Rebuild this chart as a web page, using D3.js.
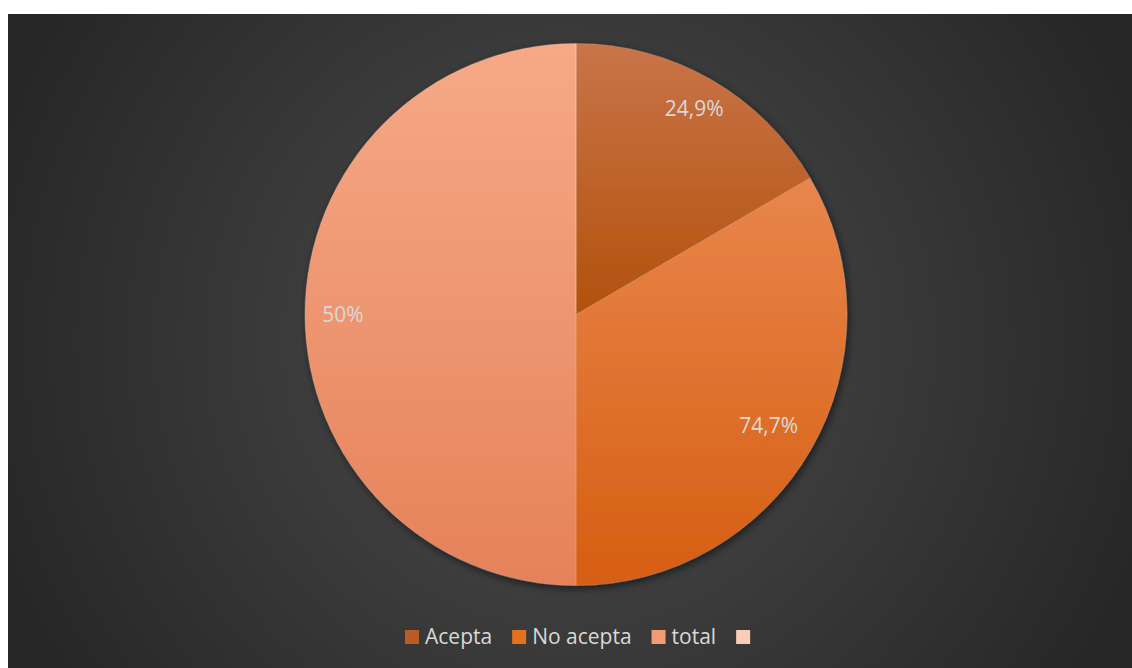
<!DOCTYPE html>
<html>
<head>
<meta charset="utf-8">
<title>Acepta / No acepta</title>
<script src="https://cdnjs.cloudflare.com/ajax/libs/d3/7.8.5/d3.min.js"></script>
<style>
  html, body { margin: 0; padding: 0; background: #fff; }
  text { font-family: "Open Sans", Lato, sans-serif; }
</style>
</head>
<body>
<script>
  const categories = ["Acepta", "No acepta", "total", ""];
  const shares = [16.6, 33.4, 50, 0];
  const labels = ["24,9%", "74,7%", "50%", ""];

  const w = 1132, h = 668;
  const cx = 576, cy = 314.5, r = 271;

  const topColors = ["#c97449", "#e9864c", "#f6a986", "#fbd5c3"];
  const botColors = ["#b2510c", "#d65e12", "#e5825a", "#f5c0a6"];
  const legendColors = ["#bb5c26", "#e3711f", "#f39c74", "#f9ccb6"];
  const labelDist = [0.875, 0.82, 0.86, 0.85];

  const svg = d3.select("body").append("svg")
    .attr("width", w).attr("height", h);

  const defs = svg.append("defs");
  const bg = defs.append("radialGradient").attr("id", "bg")
    .attr("gradientUnits", "userSpaceOnUse")
    .attr("cx", 570).attr("cy", 341).attr("r", 620);
  bg.append("stop").attr("offset", "0%").attr("stop-color", "#4d4d4d");
  bg.append("stop").attr("offset", "100%").attr("stop-color", "#262626");

  // one top-to-bottom gradient per slice, over the slice's own box
  categories.forEach((c, i) => {
    const g = defs.append("linearGradient").attr("id", "sl" + i)
      .attr("x1", 0).attr("x2", 0).attr("y1", 0).attr("y2", 1);
    g.append("stop").attr("offset", "0%").attr("stop-color", topColors[i]);
    g.append("stop").attr("offset", "100%").attr("stop-color", botColors[i]);
  });

  const sh = defs.append("filter").attr("id", "shadow")
    .attr("x", "-10%").attr("y", "-10%").attr("width", "120%").attr("height", "120%");
  sh.append("feDropShadow").attr("dx", 2).attr("dy", 3).attr("stdDeviation", 4)
    .attr("flood-color", "#000").attr("flood-opacity", 0.55);

  svg.append("rect").attr("x", 8).attr("y", 14)
    .attr("width", w - 8).attr("height", h - 14).attr("fill", "url(#bg)");

  const pie = d3.pie().sort(null).value(d => d);
  const arcs = pie(shares);
  const arc = d3.arc().innerRadius(0).outerRadius(r);

  const pg = svg.append("g").attr("transform", `translate(${cx},${cy})`);
  pg.append("g").attr("filter", "url(#shadow)")
    .selectAll("path").data(arcs).enter().append("path")
    .attr("d", arc)
    .attr("fill", (d, i) => `url(#sl${i})`)
    .attr("stroke", "rgba(255,255,255,0.15)")
    .attr("stroke-width", 1);

  pg.selectAll("text.lbl").data(arcs).enter().append("text")
    .attr("class", "lbl")
    .attr("transform", (d, i) => {
      const a = (d.startAngle + d.endAngle) / 2;
      const k = labelDist[i] * r;
      return `translate(${Math.sin(a) * k},${-Math.cos(a) * k})`;
    })
    .attr("text-anchor", "middle")
    .attr("dy", "0.35em")
    .attr("fill", "#d9d9d9")
    .style("font-size", "21px")
    .text((d, i) => labels[i]);

  // legend
  const lg = svg.append("g");
  const items = lg.selectAll("g").data(categories).enter().append("g");
  items.append("rect").attr("width", 14).attr("height", 14)
    .attr("y", -14).attr("fill", (d, i) => legendColors[i]);
  items.append("text").attr("x", 20).attr("y", 0)
    .attr("fill", "#d9d9d9").style("font-size", "21px")
    .text(d => d);
  let x = 0;
  const gap = 20;
  items.each(function () {
    d3.select(this).attr("transform", `translate(${x},0)`);
    const tw = d3.select(this).select("text").node().getComputedTextLength();
    x += 14 + (tw > 0 ? 6 + tw : 0) + gap;
  });
  lg.attr("transform", `translate(405,644)`);
</script>
</body>
</html>
